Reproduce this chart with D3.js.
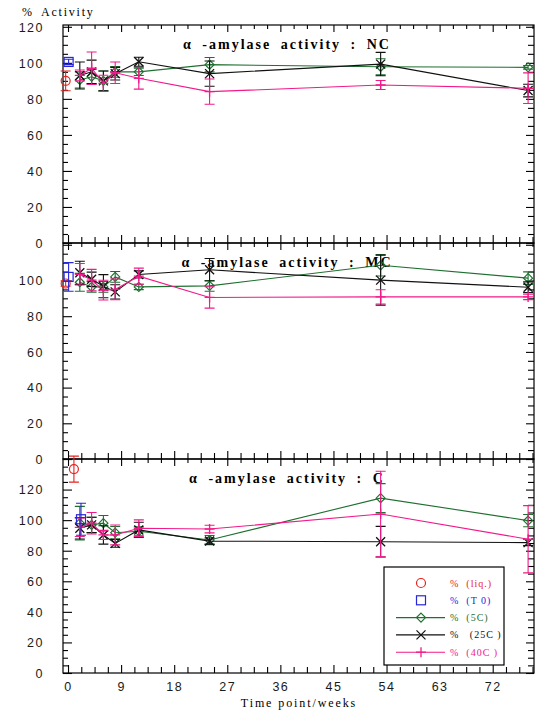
<!DOCTYPE html>
<html>
<head>
<meta charset="utf-8">
<script src="https://cdn.jsdelivr.net/npm/d3@7"></script>
<style>
  body { margin: 0; background: #fff; }
  svg { display: block; }
</style>
</head>
<body>
<svg id="chart" width="543" height="711"></svg>
<script>
// Sampling time points (weeks) for the stored samples
const weeks = [2, 4, 6, 8, 12, 24, 53, 78];
const panelNames = ["NC", "MC", "C"];

// Reference samples, one per panel: liquid form and time zero
const liqWeek = [-0.4, -0.4, 1];
const liqValue = [90, 98.3, 133.4];
const liqErr = [5.5, 1.5, 8.5];
const t0Week = [0.1, 0.1, 2.2];
const t0Value = [100.5, 102, 100.6];
const t0Err = [1.5, 8, 10.5];

// NC
const nc5C = [90.5, 92.3, 90, 95, 95, 99, 97.8, 97.5];
const nc5CErr = [4.5, 4, 5.5, 3, 2, 4, 4.5, 1];
const nc25C = [93, 95, 90, 94, 100.6, 94, 99.3, 84.6];
const nc25CErr = [7.5, 6.5, 5.5, 3.5, 2.5, 7, 6.5, 3.5];
const nc40C = [93, 97, 88.6, 94.5, 91.4, 84, 87.7, 85.9];
const nc40CErr = [3, 9, 4.5, 6, 6, 7, 2.5, 8.5];

// MC
const mc5C = [99, 96.4, 96.4, 102, 96.4, 97, 108.5, 101.3];
const mc5CErr = [5, 3, 3, 3, 1.5, 3, 6, 3.5];
const mc25C = [104.3, 100.7, 96.8, 93.6, 103.4, 106, 100.2, 96.2];
const mc25CErr = [6.5, 4, 6.5, 4, 2, 6.3, 14, 3];
const mc40C = [103.5, 100.2, 94.6, 95, 102.4, 90.5, 90.8, 90.8];
const mc40CErr = [6, 6, 5.5, 5.8, 4.5, 6, 4, 1.5];

// C
const c5C = [98, 96.9, 98, 91.8, 92.7, 87, 114.4, 99.7];
const c5CErr = [11, 5, 5, 4, 3, 3, 9.5, 4];
const c25C = [94.7, 96.9, 90.3, 84.8, 93.6, 86.3, 85.9, 85.3];
const c25CErr = [7, 5, 6, 2.5, 5, 2, 10, 2];
const c40C = [95.3, 98, 90.3, 90.3, 94.7, 94.2, 104, 87.5];
const c40CErr = [6, 7, 3, 6.5, 5.5, 2.5, 28, 22];

const xTickLabels = [0, 9, 18, 27, 36, 45, 54, 63, 72];
const yTickLabels = [
  [0, 20, 40, 60, 80, 100, 120],
  [0, 20, 40, 60, 80, 100],
  [0, 20, 40, 60, 80, 100, 120]
];
const legendLabels = ["%  (liq.)", "%  (T 0)", "%  (5C)", "%   (25C )", "%  (40C )"];

const colors = {
  liq: "#e8231f",
  t0: "#2727d8",
  c5: "#1f7030",
  c25: "#111111",
  c40: "#f2198a"
};

const stored = [
  { key: "c5", marker: "diamond", values: [nc5C, mc5C, c5C], errs: [nc5CErr, mc5CErr, c5CErr] },
  { key: "c25", marker: "cross", values: [nc25C, mc25C, c25C], errs: [nc25CErr, mc25CErr, c25CErr] },
  { key: "c40", marker: "plus", values: [nc40C, mc40C, c40C], errs: [nc40CErr, mc40CErr, c40CErr] }
];

const svg = d3.select("#chart");
const left = 63, right = 534;
const x = d3.scaleLinear().domain([-0.85, 79]).range([left, right]);

const panels = [
  { top: 25, bottom: 243, max: 121 },
  { top: 243, bottom: 459, max: 121 },
  { top: 459, bottom: 673, max: 140 }
];

const xMajor = d3.range(0, 79, 9);
const xMinor = d3.range(0, 79.5, 2.25).filter(v => Math.abs(v / 9 - Math.round(v / 9)) > 1e-6);

function drawMarker(g, type, cx, cy, color) {
  if (type === "circle") {
    g.append("circle").attr("cx", cx).attr("cy", cy).attr("r", 4.5)
      .attr("fill", "none").attr("stroke", color).attr("stroke-width", 1.2);
  } else if (type === "square") {
    g.append("rect").attr("x", cx - 4.5).attr("y", cy - 4.5).attr("width", 9).attr("height", 9)
      .attr("fill", "none").attr("stroke", color).attr("stroke-width", 1.2);
  } else if (type === "diamond") {
    g.append("path").attr("d", `M${cx},${cy - 4.5}L${cx + 4.5},${cy}L${cx},${cy + 4.5}L${cx - 4.5},${cy}Z`)
      .attr("fill", "none").attr("stroke", color).attr("stroke-width", 1.2);
  } else if (type === "cross") {
    g.append("path").attr("d", `M${cx - 4.5},${cy - 4.5}L${cx + 4.5},${cy + 4.5}M${cx - 4.5},${cy + 4.5}L${cx + 4.5},${cy - 4.5}`)
      .attr("stroke", color).attr("stroke-width", 1.3);
  } else if (type === "plus") {
    g.append("path").attr("d", `M${cx - 5},${cy}L${cx + 5},${cy}M${cx},${cy - 5}L${cx},${cy + 5}`)
      .attr("stroke", color).attr("stroke-width", 1.3);
  }
}

function drawError(g, y, wk, v, e, color) {
  const cx = x(wk), y1 = y(v + e), y2 = y(v - e);
  g.append("path")
    .attr("d", `M${cx},${y1}L${cx},${y2}M${cx - 5},${y1}L${cx + 5},${y1}M${cx - 5},${y2}L${cx + 5},${y2}`)
    .attr("stroke", color).attr("stroke-width", 1.1).attr("fill", "none");
}

panels.forEach((p, i) => {
  const y = d3.scaleLinear().domain([0, p.max]).range([p.bottom, p.top]);
  const g = svg.append("g");
  const yMajor = d3.range(0, p.max + 0.01, 20);
  const yMinor = d3.range(0, p.max, 5).filter(v => v % 20 !== 0);

  // frame
  g.append("rect").attr("x", left).attr("y", p.top).attr("width", right - left).attr("height", p.bottom - p.top)
    .attr("fill", "none").attr("stroke", "#000").attr("stroke-width", 1.2);

  // left axis: inward ticks and labels
  g.append("g").attr("transform", `translate(${left},0)`)
    .call(d3.axisLeft(y).tickValues(yMajor).tickSize(-9).tickFormat(""));
  g.append("g").attr("transform", `translate(${left},0)`)
    .call(d3.axisLeft(y).tickValues(yMinor).tickSize(-5).tickFormat(""));
  g.append("g").attr("class", "ylab").attr("transform", `translate(${left},0)`)
    .call(d3.axisLeft(y).tickValues(yTickLabels[i]).tickSize(0).tickPadding(19).tickFormat(d3.format("d")));

  // right axis
  g.append("g").attr("transform", `translate(${right},0)`)
    .call(d3.axisRight(y).tickValues(yMajor).tickSize(-8).tickFormat(""));
  g.append("g").attr("transform", `translate(${right},0)`)
    .call(d3.axisRight(y).tickValues(yMinor).tickSize(-6).tickFormat(""));

  // bottom axis ticks pointing up
  g.append("g").attr("transform", `translate(0,${p.bottom})`)
    .call(d3.axisBottom(x).tickValues(xMajor).tickSize(-8).tickFormat(""));
  g.append("g").attr("transform", `translate(0,${p.bottom})`)
    .call(d3.axisBottom(x).tickValues(xMinor).tickSize(-6).tickFormat(""));
  // top axis ticks pointing down
  g.append("g").attr("transform", `translate(0,${p.top})`)
    .call(d3.axisTop(x).tickValues(xMajor).tickSize(-7).tickFormat(""));
  g.append("g").attr("transform", `translate(0,${p.top})`)
    .call(d3.axisTop(x).tickValues(xMinor).tickSize(-4).tickFormat(""));

  // title
  g.append("text").attr("x", 287).attr("y", p.top + 24)
    .attr("text-anchor", "middle")
    .attr("font-family", "'Liberation Serif', 'Times New Roman', serif")
    .attr("font-weight", "bold").attr("font-size", 14).attr("letter-spacing", 2)
    .attr("word-spacing", 4)
    .text(`α -amylase activity : ${panelNames[i]}`);

  // storage series: line, error bars, markers
  stored.forEach(s => {
    const vals = s.values[i], errs = s.errs[i], col = colors[s.key];
    const pts = weeks.map((w, j) => [w, vals[j]]);
    g.append("path").datum(pts)
      .attr("d", d3.line().x(d => x(d[0])).y(d => y(d[1])))
      .attr("fill", "none").attr("stroke", col).attr("stroke-width", 1.1);
    weeks.forEach((w, j) => drawError(g, y, w, vals[j], errs[j], col));
    weeks.forEach((w, j) => drawMarker(g, s.marker, x(w), y(vals[j]), col));
  });

  // reference samples
  drawError(g, y, liqWeek[i], liqValue[i], liqErr[i], colors.liq);
  drawMarker(g, "circle", x(liqWeek[i]), y(liqValue[i]), colors.liq);
  drawError(g, y, t0Week[i], t0Value[i], t0Err[i], colors.t0);
  drawMarker(g, "square", x(t0Week[i]), y(t0Value[i]), colors.t0);

  if (i === panels.length - 1) {
    g.append("g").attr("class", "xlab").attr("transform", `translate(0,${p.bottom})`)
      .call(d3.axisBottom(x).tickValues(xTickLabels).tickSize(0).tickPadding(9));
  }
});

svg.selectAll(".domain").remove();
svg.selectAll(".tick line").attr("stroke", "#000").attr("stroke-width", 1.1);
svg.selectAll(".ylab text, .xlab text")
  .attr("font-family", "'Liberation Sans', Arial, sans-serif")
  .attr("font-size", 12.5).attr("letter-spacing", 1.5).attr("fill", "#1a1a1a");
svg.selectAll(".ylab text").attr("dy", "0.35em");

// axis titles
svg.append("text").attr("x", 22).attr("y", 16)
  .attr("font-family", "'Liberation Serif', 'Times New Roman', serif")
  .attr("font-size", 12).attr("letter-spacing", 1.8).attr("word-spacing", 3)
  .text("% Activity");
svg.append("text").attr("x", 299).attr("y", 707).attr("text-anchor", "middle")
  .attr("font-family", "'Liberation Serif', 'Times New Roman', serif")
  .attr("font-size", 12).attr("letter-spacing", 1.9)
  .text("Time point/weeks");

// legend
const lg = svg.append("g");
lg.append("rect").attr("x", 384).attr("y", 567).attr("width", 120).attr("height", 98)
  .attr("fill", "#fff").attr("stroke", "#000").attr("stroke-width", 1.2);
const legendItems = [
  { key: "liq", marker: "circle", line: false },
  { key: "t0", marker: "square", line: false },
  { key: "c5", marker: "diamond", line: true },
  { key: "c25", marker: "cross", line: true },
  { key: "c40", marker: "plus", line: true }
];
legendItems.forEach((it, k) => {
  const cy = 583 + k * 17.3, col = colors[it.key];
  if (it.line) {
    lg.append("line").attr("x1", 396).attr("x2", 445).attr("y1", cy).attr("y2", cy)
      .attr("stroke", col).attr("stroke-width", 1.1);
  }
  drawMarker(lg, it.marker, 421, cy, col);
  lg.append("text").attr("x", 450).attr("y", cy + 3.5)
    .attr("font-family", "'Liberation Serif', 'Times New Roman', serif")
    .attr("font-size", 10).attr("letter-spacing", 1).attr("fill", col)
    .attr("xml:space", "preserve").style("white-space", "pre")
    .text(legendLabels[k]);
});
</script>
</body>
</html>
